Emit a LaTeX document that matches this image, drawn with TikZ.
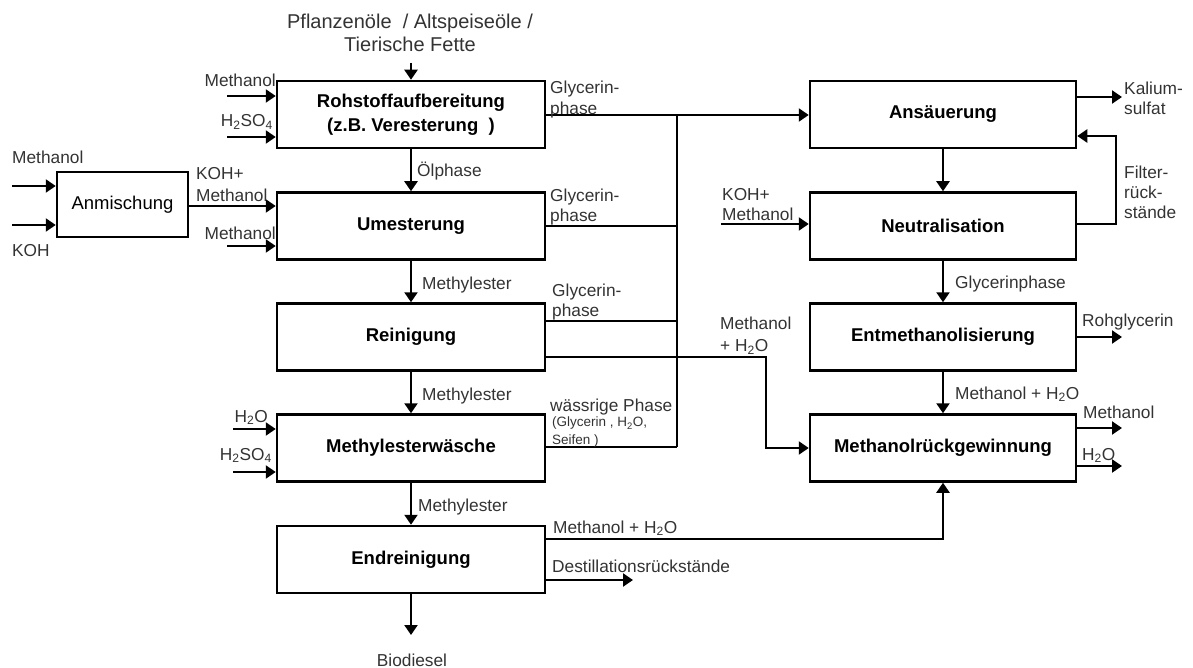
\documentclass[tikz,border=0pt]{standalone}
\usepackage{fontspec}
\setmainfont{Liberation Sans}
\usetikzlibrary{arrows.meta}
\begin{document}
\begin{tikzpicture}[x=1pt,y=-1pt,
  box/.style={draw, line width=2.5pt, minimum width=268pt, minimum height=67pt,
    font=\fontsize{18.5}{24}\selectfont\bfseries, align=center, inner sep=0pt},
  rbox/.style={box, minimum width=266pt},
  lbl/.style={font=\fontsize{17.3}{20}\selectfont, text=black!80, inner sep=0pt},
  small/.style={font=\fontsize{13.5}{18}\selectfont, text=black!80, inner sep=0pt},
  arr/.style={line width=2.2pt, -{Triangle[width=13pt,length=10pt]}},
  ln/.style={line width=2.2pt}]
\useasboundingbox (0,0) rectangle (1193,668);

% boxes
\node[box] (rb) at (411,114.5) {Rohstoffaufbereitung\\(z.B. Veresterung~~)};
\node[box] (um) at (411,226) {Umesterung};
\node[box] (re) at (411,337) {Reinigung};
\node[box] (mw) at (411,448) {Methylesterwäsche};
\node[box] (er) at (411,559.5) {Endreinigung};
\node[box, minimum width=131pt, minimum height=65pt, font=\fontsize{18.5}{22}\selectfont] (an) at (122.5,204.5) {Anmischung};
\node[rbox] (as) at (943,114.5) {Ansäuerung};
\node[rbox] (ne) at (943,226) {Neutralisation};
\node[rbox] (em) at (943,337) {Entmethanolisierung};
\node[rbox] (mr) at (943,448) {Methanolrückgewinnung};

% top feed
\node[lbl, align=center, font=\fontsize{20}{23}\selectfont] (tl) at (410,33) {Pflanzenöle~~/ Altspeiseöle /\\Tierische Fette};
\coordinate (top) at (411,63);
\draw[arr] (top) -- (rb.north);

% inputs to Rohstoffaufbereitung
\coordinate (m1) at (227,96);
\draw[arr] (m1) -- (m1 -| rb.west);
\node[lbl, anchor=base east] (m1l) at (276,87) {Methanol};
\coordinate (h1) at (227,137);
\draw[arr] (h1) -- (h1 -| rb.west);
\node[lbl, anchor=base east] (h1l) at (273,127) {H\textsubscript{2}SO\textsubscript{4}};

% Anmischung
\coordinate (am) at (12,186);
\draw[arr] (am) -- (am -| an.west);
\coordinate (ak) at (12,225);
\draw[arr] (ak) -- (ak -| an.west);
\node[lbl, anchor=base west] (aml) at (12,164) {Methanol};
\node[lbl, anchor=base west] (akl) at (12,257) {KOH};
\coordinate (ko) at (0,206);
\draw[arr] (an.east |- ko) -- (um.west |- ko);
\node[lbl, anchor=north west, align=left, font=\fontsize{17.3}{22}\selectfont] (kol) at (196,167) {KOH+\\Methanol};
\coordinate (m2) at (227,246);
\draw[arr] (m2) -- (m2 -| um.west);
\node[lbl, anchor=base east] (m2l) at (276,240) {Methanol};

% main column
\draw[arr] (rb.south) -- (um.north);
\node[lbl, anchor=base west] (oel) at (417,177) {Ölphase};
\draw[arr] (um.south) -- (re.north);
\node[lbl, anchor=base west] (me1) at (422,289) {Methylester};
\draw[arr] (re.south) -- (mw.north);
\node[lbl, anchor=base west] (me2) at (422,400) {Methylester};
\draw[arr] (mw.south) -- (er.north);
\node[lbl, anchor=base west] (me3) at (418,511) {Methylester};
\coordinate (bd) at (411,635);
\draw[arr] (er.south) -- (bd);
\node[lbl, anchor=base] (bdl) at (412,666) {Biodiesel};

% inputs to Methylesterwaesche
\coordinate (h2) at (233,429);
\draw[arr] (h2) -- (h2 -| mw.west);
\node[lbl, anchor=base east] (h2l) at (268,422) {H\textsubscript{2}O};
\coordinate (h3) at (233,472);
\draw[arr] (h3) -- (h3 -| mw.west);
\node[lbl, anchor=base east] (h3l) at (272,460) {H\textsubscript{2}SO\textsubscript{4}};

% glycerin collector
\coordinate (g1) at (677,115);
\coordinate (g2) at (677,226);
\coordinate (g3) at (677,321);
\coordinate (g4) at (677,447);
\draw[arr] (rb.east |- g1) -- (as.west |- g1);
\draw[ln] (um.east |- g2) -- (g2);
\draw[ln] (re.east |- g3) -- (g3);
\draw[ln] (mw.east |- g4) -- (g4);
\draw[ln] (g1) -- (g4);
\node[lbl, anchor=north west, align=left, font=\fontsize{17.3}{21}\selectfont] (gp1) at (550,81) {Glycerin-\\phase};
\node[lbl, anchor=north west, align=left] (gp2) at (550,189) {Glycerin-\\phase};
\node[lbl, anchor=north west, align=left] (gp3) at (552,284) {Glycerin-\\phase};
\node[lbl, anchor=base west] (wp) at (550,411) {wässrige Phase};
\node[small, anchor=north west, align=left] (wps) at (552,417) {(Glycerin , H\textsubscript{2}O,\\Seifen )};

% Reinigung -> Methanolrueckgewinnung
\coordinate (w1) at (766,357);
\coordinate (w2) at (766,448);
\draw[arr] (re.east |- w1) -- (w1) -- (w2) -- (mr.west);
\node[lbl, anchor=north west, align=left, font=\fontsize{17.3}{22}\selectfont] (mhl) at (720,317) {Methanol\\+ H\textsubscript{2}O};

% Endreinigung outputs
\coordinate (e1) at (943,539);
\draw[arr] (er.east |- e1) -- (e1) -- (mr.south);
\node[lbl, anchor=base west] (e1l) at (553,533) {Methanol + H\textsubscript{2}O};
\coordinate (d1) at (633,580);
\draw[arr] (er.east |- d1) -- (d1);
\node[lbl, anchor=base west] (d1l) at (552,572) {Destillationsrückstände};

% right column
\draw[arr] (as.south) -- (ne.north);
\coordinate (k1) at (721,224);
\draw[arr] (k1) -- (k1 -| ne.west);
\node[lbl, anchor=north west, align=left] (k1l) at (722,188) {KOH+\\Methanol};
\coordinate (ka) at (1122,97);
\draw[arr] (as.east |- ka) -- (ka);
\node[lbl, anchor=north west, align=left] (kal) at (1124,82) {Kalium-\\sulfat};
\coordinate (f1) at (1116,224);
\coordinate (f2) at (1116,136);
\draw[arr] (ne.east |- f1) -- (f1) -- (f2) -- (as.east |- f2);
\node[lbl, anchor=north west, align=left] (fl) at (1124,166) {Filter-\\rück-\\stände};
\draw[arr] (ne.south) -- (em.north);
\node[lbl, anchor=base west] (gpl) at (955,288) {Glycerinphase};
\draw[arr] (em.south) -- (mr.north);
\node[lbl, anchor=base west] (mhr) at (955,399) {Methanol + H\textsubscript{2}O};
\coordinate (rg) at (1122,337);
\draw[arr] (em.east |- rg) -- (rg);
\node[lbl, anchor=base west] (rgl) at (1082,326) {Rohglycerin};
\coordinate (mo) at (1122,428);
\draw[arr] (mr.east |- mo) -- (mo);
\node[lbl, anchor=base west] (mol) at (1083,418) {Methanol};
\coordinate (wo) at (1122,466);
\draw[arr] (mr.east |- wo) -- (wo);
\node[lbl, anchor=base west] (wol) at (1082,460) {H\textsubscript{2}O};
\end{tikzpicture}
\end{document}
